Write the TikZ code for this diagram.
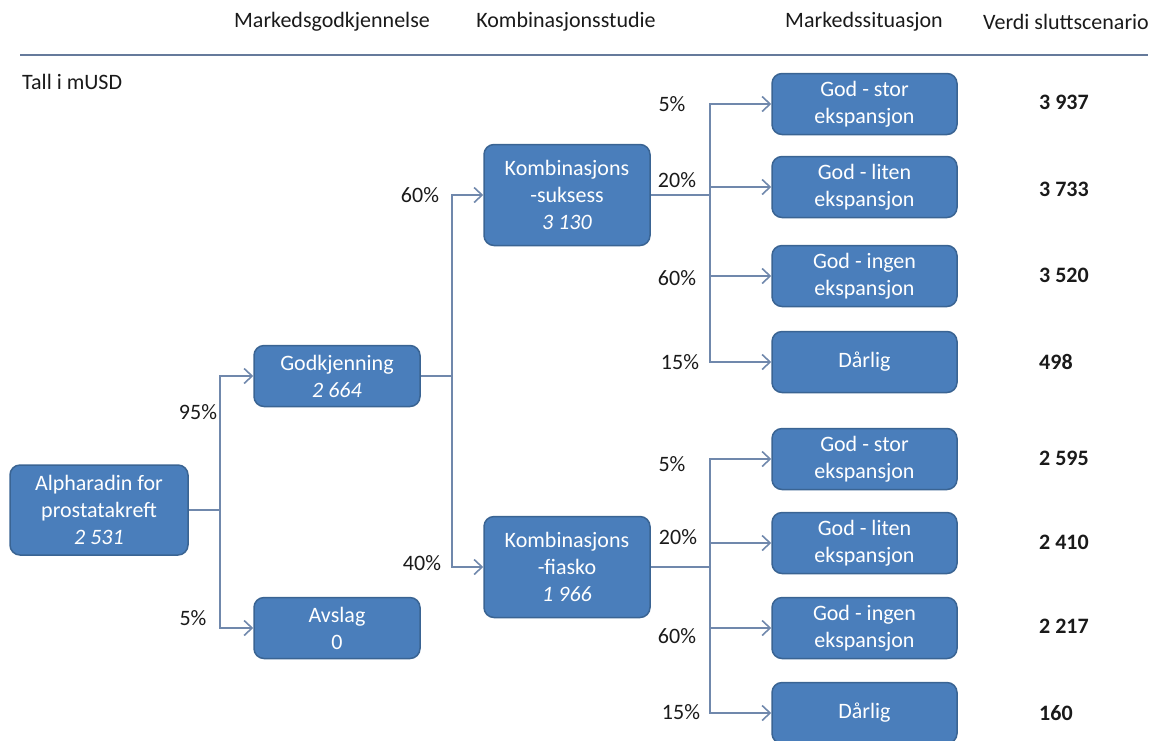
\documentclass[tikz,border=0pt]{standalone}
\usepackage{fontspec}
\setmainfont{Carlito}
\usetikzlibrary{arrows.meta}
\definecolor{boxfill}{HTML}{4A7EBB}
\definecolor{boxedge}{HTML}{3A6493}
\definecolor{linecol}{HTML}{7088AC}
\definecolor{txt}{HTML}{1A1A1A}
\tikzset{
  base/.style={font=\fontsize{22}{27}\selectfont, text=txt, inner sep=0pt},
  box/.style={base, draw=boxedge, line width=1.5pt, fill=boxfill, rounded corners=10pt,
    text=white, align=center},
  leafbox/.style={box, minimum width=185pt, minimum height=61pt},
  midbox/.style={box, minimum width=166pt, minimum height=61pt},
  combbox/.style={box, minimum width=166pt, minimum height=101pt},
  conn/.style={draw=linecol, line width=1.8pt},
  arr/.style={conn, -{Straight Barb[length=8pt, width=15pt, line width=1.6pt]}},
  pct/.style={base},
  val/.style={base, font=\fontsize{22}{27}\selectfont\bfseries, anchor=west},
  head/.style={base},
}
\begin{document}
\begin{tikzpicture}[x=1pt, y=-1pt]
\useasboundingbox (0,0) rectangle (1155,740);

% column headings and rule
\node[head] (h1) at (332,22) {Markedsgodkjennelse};
\node[head] (h2) at (566,22) {Kombinasjonsstudie};
\node[head] (h3) at (864,22) {Markedssituasjon};
\node[head] (h4) at (1066,22) {Verdi sluttscenario};
\draw[draw=linecol!90!black, line width=2pt] (20,55) -- (1148,55);
\node[base, anchor=west] (unit) at (22,82) {Tall i mUSD};

% decision nodes
\node[box, minimum width=178pt, minimum height=90pt] (alph) at (99,510)
  {Alpharadin for\\prostatakreft\\\textit{2 531}};
\node[midbox] (godk) at (337,376) {Godkjenning\\\textit{2 664}};
\node[midbox] (avsl) at (337,628) {Avslag\\0};
\node[combbox] (suks) at (567,195) {Kombinasjons\\-suksess\\\textit{3 130}};
\node[combbox] (fiask) at (567,567) {Kombinasjons\\-fiasko\\\textit{1 966}};

% market outcomes after success
\node[leafbox] (s1) at (864.5,104) {God - stor\\ekspansjon};
\node[leafbox] (s2) at (864.5,187) {God - liten\\ekspansjon};
\node[leafbox] (s3) at (864.5,276) {God - ingen\\ekspansjon};
\node[leafbox] (s4) at (864.5,362) {Dårlig};
% market outcomes after failure
\node[leafbox] (f1) at (864.5,459) {God - stor\\ekspansjon};
\node[leafbox] (f2) at (864.5,543) {God - liten\\ekspansjon};
\node[leafbox] (f3) at (864.5,628) {God - ingen\\ekspansjon};
\node[leafbox] (f4) at (864.5,713) {Dårlig};

% branch points
\coordinate (b0) at (220,510);
\coordinate (b1) at (452,376);
\coordinate (b2) at (710,195);
\coordinate (b3) at (710,567);

\draw[conn] (alph.east) -- (b0);
\draw[arr] (b0) |- (godk.west);
\draw[arr] (b0) |- (avsl.west);

\draw[conn] (godk.east) -- (b1);
\draw[arr] (b1) |- (suks.west);
\draw[arr] (b1) |- (fiask.west);

\draw[conn] (suks.east) -- (b2);
\foreach \n in {s1,s2,s3,s4} \draw[arr] (b2) |- (\n.west);
\draw[conn] (fiask.east) -- (b3);
\foreach \n in {f1,f2,f3,f4} \draw[arr] (b3) |- (\n.west);

% probabilities
\node[pct] (p95) at (198,412) {95\%};
\node[pct] (p05) at (193,618) {5\%};
\node[pct] (p60) at (420,195) {60\%};
\node[pct] (p40) at (422,563) {40\%};

\node[pct] (ps1) at (672,104) {5\%};
\node[pct] (ps2) at (677,180) {20\%};
\node[pct] (ps3) at (677,278) {60\%};
\node[pct] (ps4) at (680,362) {15\%};

\node[pct] (pf1) at (672,464) {5\%};
\node[pct] (pf2) at (678,537) {20\%};
\node[pct] (pf3) at (677,636) {60\%};
\node[pct] (pf4) at (681,712) {15\%};

% scenario values
\node[val] (v1) at (1039,102) {3 937};
\node[val] (v2) at (1039,189) {3 733};
\node[val] (v3) at (1039,275) {3 520};
\node[val] (v4) at (1039,362) {498};
\node[val] (v5) at (1039,458) {2 595};
\node[val] (v6) at (1039,542) {2 410};
\node[val] (v7) at (1039,626) {2 217};
\node[val] (v8) at (1039,713) {160};
\end{tikzpicture}
\end{document}
